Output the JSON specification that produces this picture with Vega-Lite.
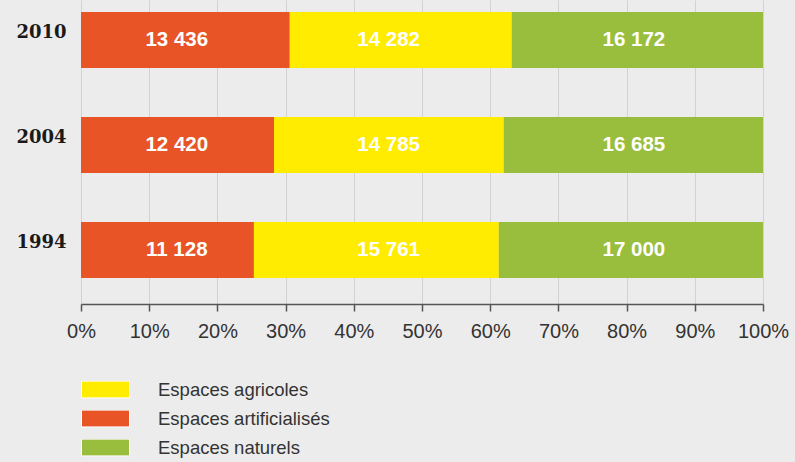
{
  "$schema": "https://vega.github.io/schema/vega-lite/v6.json",
  "width": 682,
  "height": 304,
  "autosize": {"type": "none"},
  "padding": {"left": 81, "top": 0, "right": 32, "bottom": 158},
  "background": "#ececec",
  "config": {
    "view": {"stroke": null},
    "locale": {"number": {"decimal": ",", "thousands": " ", "grouping": [3], "currency": ["", " €"]}}
  },
  "data": {
    "values": [
      {"annee": "2010", "type": "Espaces artificialisés", "ordre": 1, "valeur": 13436},
      {"annee": "2010", "type": "Espaces agricoles", "ordre": 2, "valeur": 14282},
      {"annee": "2010", "type": "Espaces naturels", "ordre": 3, "valeur": 16172},
      {"annee": "2004", "type": "Espaces artificialisés", "ordre": 1, "valeur": 12420},
      {"annee": "2004", "type": "Espaces agricoles", "ordre": 2, "valeur": 14785},
      {"annee": "2004", "type": "Espaces naturels", "ordre": 3, "valeur": 16685},
      {"annee": "1994", "type": "Espaces artificialisés", "ordre": 1, "valeur": 11128},
      {"annee": "1994", "type": "Espaces agricoles", "ordre": 2, "valeur": 15761},
      {"annee": "1994", "type": "Espaces naturels", "ordre": 3, "valeur": 17000}
    ]
  },
  "transform": [
    {"stack": "valeur", "groupby": ["annee"], "offset": "normalize", "sort": [{"field": "ordre", "order": "ascending"}], "as": ["x0", "x1"]}
  ],
  "encoding": {
    "y": {
      "field": "annee",
      "type": "nominal",
      "sort": ["2010", "2004", "1994"],
      "scale": {"paddingInner": 0.467, "paddingOuter": 0.181, "align": 0.316},
      "axis": {
        "title": null,
        "domain": false,
        "ticks": false,
        "labelFont": "DejaVu Serif",
        "labelFontWeight": "bold",
        "labelFontSize": 18,
        "labelColor": "#1a1a1a",
        "labelPadding": 15,
        "labelOffset": -7
      }
    }
  },
  "layer": [
    {
      "mark": {"type": "bar"},
      "encoding": {
        "x": {
          "field": "x0",
          "type": "quantitative",
          "scale": {"domain": [0, 1]},
          "axis": {
            "title": null,
            "format": ".0%",
            "values": [0, 0.1, 0.2, 0.3, 0.4, 0.5, 0.6, 0.7, 0.8, 0.9, 1],
            "grid": true,
            "gridColor": "#d2d2d2",
            "gridWidth": 1,
            "domainColor": "#555555",
            "domainWidth": 1.5,
            "tickColor": "#555555",
            "tickWidth": 1.5,
            "tickSize": 7,
            "labelFont": "Liberation Sans",
            "labelFontSize": 20,
            "labelColor": "#333333",
            "labelPadding": 10,
            "labelFlush": false,
            "labelOverlap": false
          }
        },
        "x2": {"field": "x1"},
        "color": {
          "field": "type",
          "type": "nominal",
          "scale": {
            "domain": ["Espaces agricoles", "Espaces artificialisés", "Espaces naturels"],
            "range": ["#ffec00", "#e85426", "#99be3e"]
          },
          "legend": {
            "title": null,
            "orient": "none",
            "legendX": 0,
            "legendY": 381,
            "padding": 0,
            "symbolType": "M-1,-0.35H1V0.35H-1Z",
            "symbolSize": 2304,
            "symbolStrokeColor": "white",
            "symbolStrokeWidth": 1,
            "symbolOpacity": 1,
            "clipHeight": 17,
            "rowPadding": 10,
            "labelOffset": 28,
            "labelFont": "Liberation Sans",
            "labelFontSize": 18.5,
            "labelColor": "#333333",
            "labelLimit": 400
          }
        }
      }
    },
    {
      "transform": [
        {"calculate": "(datum.x0 + datum.x1) / 2", "as": "milieu"},
        {"joinaggregate": [{"op": "mean", "field": "milieu", "as": "colonne"}], "groupby": ["type"]}
      ],
      "mark": {"type": "text", "color": "white", "font": "Liberation Sans", "fontWeight": "bold", "fontSize": 20.5, "baseline": "middle", "align": "center"},
      "encoding": {
        "x": {"field": "colonne", "type": "quantitative"},
        "text": {"field": "valeur", "type": "quantitative", "format": ",d"}
      }
    }
  ]
}
